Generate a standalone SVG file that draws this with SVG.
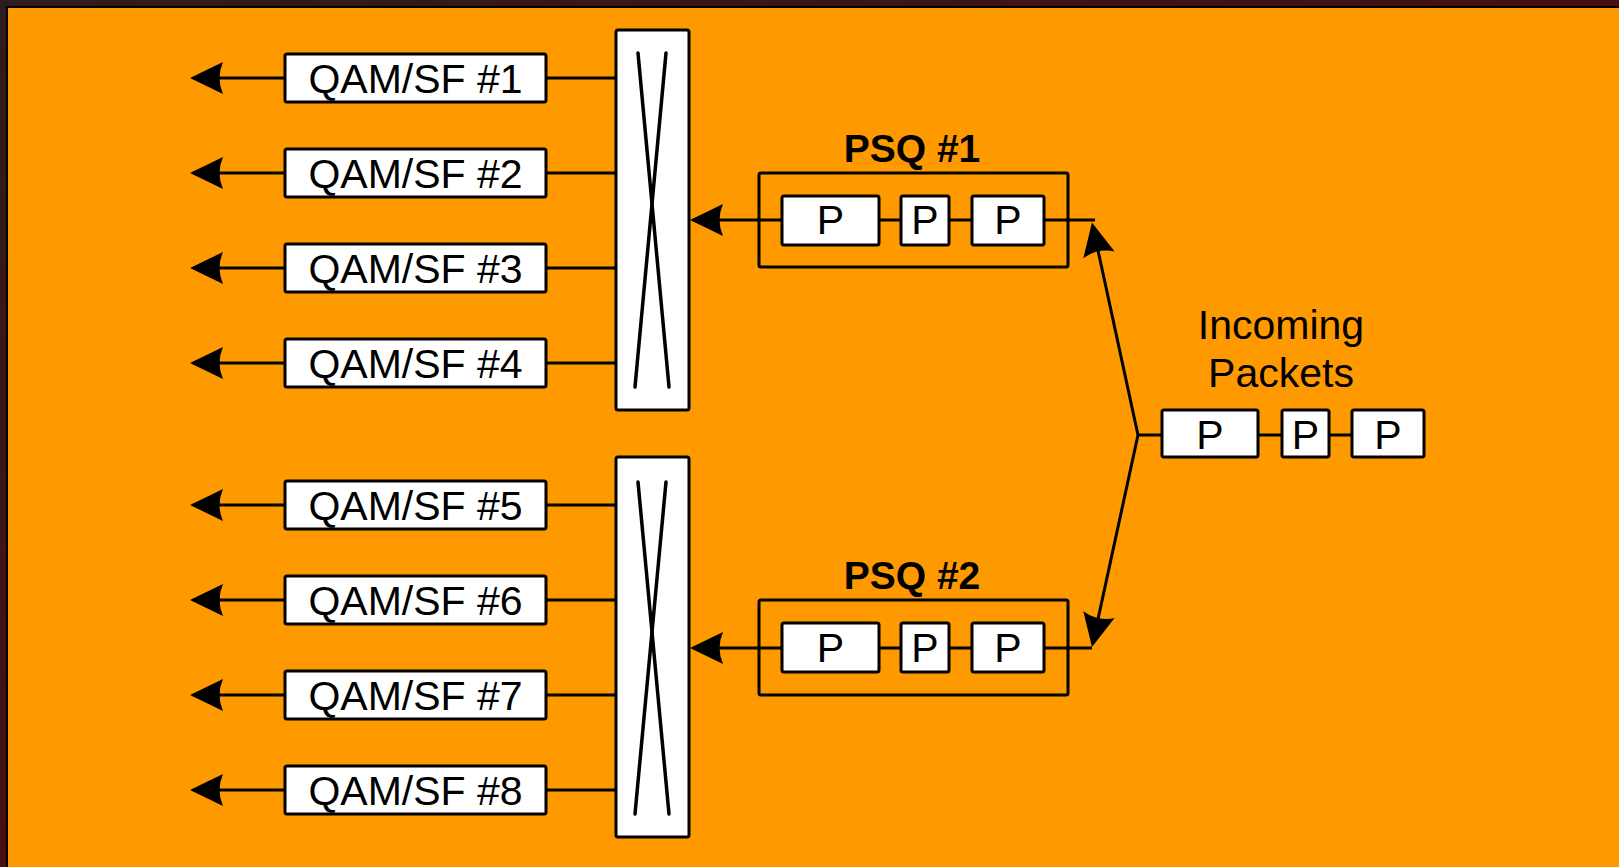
<svg xmlns="http://www.w3.org/2000/svg" width="1619" height="867" viewBox="0 0 1619 867">
<defs>
<linearGradient id="bg" x1="0" y1="0" x2="1" y2="1">
<stop offset="0" stop-color="#2e1c1c"/>
<stop offset="0.5" stop-color="#481010"/>
<stop offset="1" stop-color="#101010"/>
</linearGradient>
<marker id="ah" markerUnits="userSpaceOnUse" markerWidth="40" markerHeight="40" viewBox="-36 -20 40 40" refX="-3" refY="0" orient="auto">
<path d="M0,0 L-33,-16 Q-26,0 -33,16 Z" fill="#000"/>
</marker>
<style>
.box{fill:#fff;stroke:#000;stroke-width:3}
.qbox{fill:none;stroke:#000;stroke-width:3}
.ln{stroke:#000;stroke-width:3;fill:none}
.arr{stroke:#000;stroke-width:3;fill:none;marker-end:url(#ah)}
.x{stroke:#000;stroke-width:3.5;stroke-linecap:round}
.t{font-family:"Liberation Sans",Arial,sans-serif;font-size:41px;fill:#000;text-anchor:middle}
.tb{font-family:"Liberation Sans",Arial,sans-serif;font-size:39px;font-weight:bold;fill:#000;text-anchor:middle}
</style>
</defs>
<rect x="0" y="0" width="1619" height="867" fill="url(#bg)"/>
<rect x="6" y="6" width="1613" height="861" fill="#000"/>
<rect x="8" y="8" width="1611" height="859" fill="#ff9900"/>

<g id="connectors">
<line class="arr" x1="285" y1="78" x2="193" y2="78"/>
<line class="arr" x1="285" y1="173" x2="193" y2="173"/>
<line class="arr" x1="285" y1="268" x2="193" y2="268"/>
<line class="arr" x1="285" y1="363" x2="193" y2="363"/>
<line class="arr" x1="285" y1="505" x2="193" y2="505"/>
<line class="arr" x1="285" y1="600" x2="193" y2="600"/>
<line class="arr" x1="285" y1="695" x2="193" y2="695"/>
<line class="arr" x1="285" y1="790" x2="193" y2="790"/>
<line class="ln" x1="546" y1="78" x2="616" y2="78"/>
<line class="ln" x1="546" y1="173" x2="616" y2="173"/>
<line class="ln" x1="546" y1="268" x2="616" y2="268"/>
<line class="ln" x1="546" y1="363" x2="616" y2="363"/>
<line class="ln" x1="546" y1="505" x2="616" y2="505"/>
<line class="ln" x1="546" y1="600" x2="616" y2="600"/>
<line class="ln" x1="546" y1="695" x2="616" y2="695"/>
<line class="ln" x1="546" y1="790" x2="616" y2="790"/>
<line class="arr" x1="782" y1="220" x2="693" y2="220"/>
<line class="ln" x1="879" y1="220" x2="901" y2="220"/>
<line class="ln" x1="949" y1="220" x2="972" y2="220"/>
<line class="ln" x1="1044" y1="220" x2="1095" y2="220"/>
<line class="arr" x1="782" y1="648" x2="693" y2="648"/>
<line class="ln" x1="879" y1="648" x2="901" y2="648"/>
<line class="ln" x1="949" y1="648" x2="972" y2="648"/>
<line class="ln" x1="1044" y1="648" x2="1092" y2="648"/>
<line class="arr" x1="1138" y1="435" x2="1092.6" y2="225.5"/>
<line class="arr" x1="1138" y1="435" x2="1092.6" y2="644"/>
<line class="ln" x1="1137" y1="435" x2="1162" y2="435"/>
<line class="ln" x1="1258" y1="435" x2="1282" y2="435"/>
<line class="ln" x1="1329" y1="435" x2="1352" y2="435"/>
</g>

<g id="qam1"><rect class="box" x="285" y="54" width="261" height="48" rx="2"/><text class="t" x="415.5" y="93">QAM/SF #1</text></g>
<g id="qam2"><rect class="box" x="285" y="149" width="261" height="48" rx="2"/><text class="t" x="415.5" y="188">QAM/SF #2</text></g>
<g id="qam3"><rect class="box" x="285" y="244" width="261" height="48" rx="2"/><text class="t" x="415.5" y="283">QAM/SF #3</text></g>
<g id="qam4"><rect class="box" x="285" y="339" width="261" height="48" rx="2"/><text class="t" x="415.5" y="378">QAM/SF #4</text></g>
<g id="qam5"><rect class="box" x="285" y="481" width="261" height="48" rx="2"/><text class="t" x="415.5" y="520">QAM/SF #5</text></g>
<g id="qam6"><rect class="box" x="285" y="576" width="261" height="48" rx="2"/><text class="t" x="415.5" y="615">QAM/SF #6</text></g>
<g id="qam7"><rect class="box" x="285" y="671" width="261" height="48" rx="2"/><text class="t" x="415.5" y="710">QAM/SF #7</text></g>
<g id="qam8"><rect class="box" x="285" y="766" width="261" height="48" rx="2"/><text class="t" x="415.5" y="805">QAM/SF #8</text></g>

<g id="switch1">
<rect class="box" x="616" y="30" width="73" height="380" rx="2"/>
<line class="x" x1="638" y1="53" x2="669" y2="387"/>
<line class="x" x1="666" y1="53" x2="635" y2="387"/>
</g>
<g id="switch2">
<rect class="box" x="616" y="457" width="73" height="380" rx="2"/>
<line class="x" x1="638" y1="482" x2="669" y2="814"/>
<line class="x" x1="666" y1="482" x2="635" y2="814"/>
</g>

<g id="psq1">
<text class="tb" x="912" y="162">PSQ #1</text>
<rect class="qbox" x="759" y="173" width="309" height="94" rx="2"/>
<rect class="box" x="782" y="196" width="97" height="49" rx="2"/><text class="t" x="830.5" y="234">P</text>
<rect class="box" x="901" y="196" width="48" height="49" rx="2"/><text class="t" x="925" y="234">P</text>
<rect class="box" x="972" y="196" width="72" height="49" rx="2"/><text class="t" x="1008" y="234">P</text>
</g>
<g id="psq2">
<text class="tb" x="912" y="589">PSQ #2</text>
<rect class="qbox" x="759" y="600" width="309" height="95" rx="2"/>
<rect class="box" x="782" y="623" width="97" height="49" rx="2"/><text class="t" x="830.5" y="662">P</text>
<rect class="box" x="901" y="623" width="48" height="49" rx="2"/><text class="t" x="925" y="662">P</text>
<rect class="box" x="972" y="623" width="72" height="49" rx="2"/><text class="t" x="1008" y="662">P</text>
</g>
<g id="incoming">
<text class="t" x="1281" y="339">Incoming</text>
<text class="t" x="1281" y="387">Packets</text>
<rect class="box" x="1162" y="410" width="96" height="47" rx="2"/><text class="t" x="1210" y="449">P</text>
<rect class="box" x="1282" y="410" width="47" height="47" rx="2"/><text class="t" x="1305.5" y="449">P</text>
<rect class="box" x="1352" y="410" width="72" height="47" rx="2"/><text class="t" x="1388" y="449">P</text>
</g>
</svg>
